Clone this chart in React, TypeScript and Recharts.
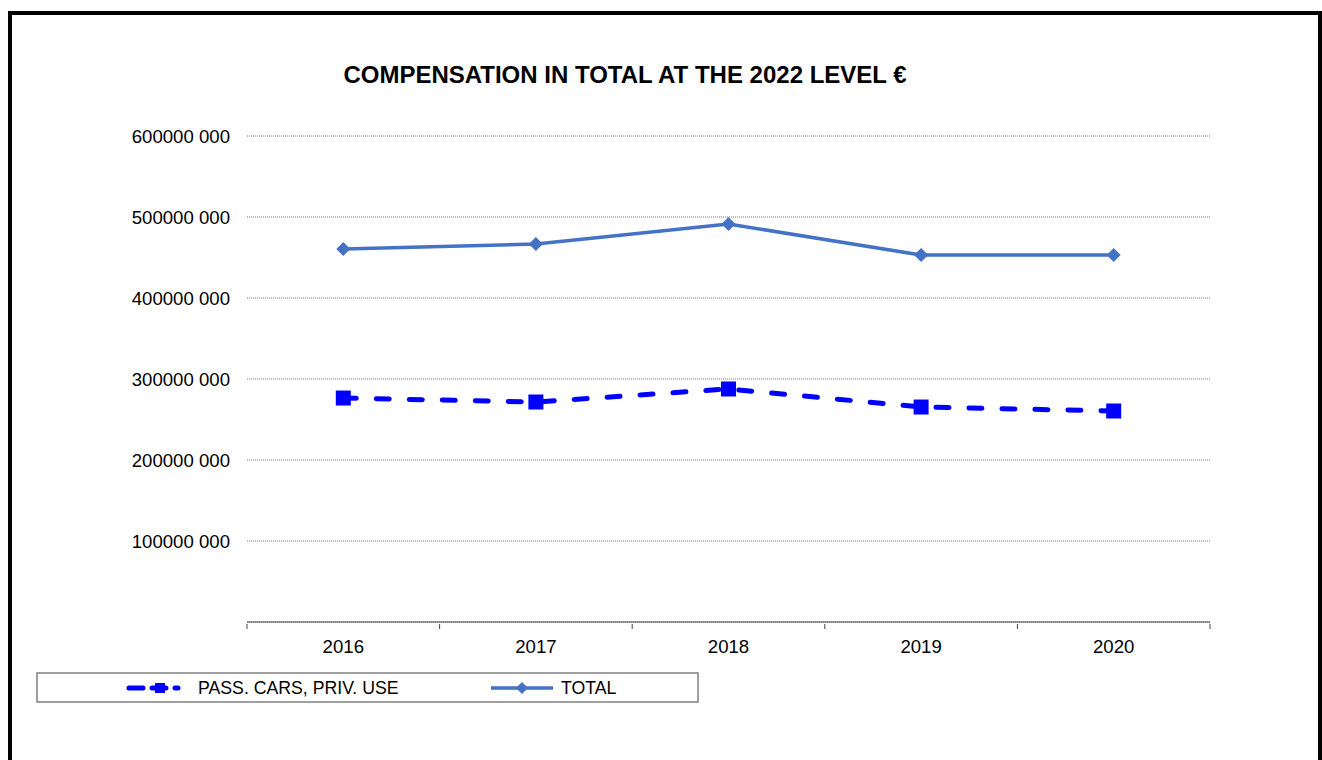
import React from "react";
import { LineChart, Line, XAxis, YAxis, CartesianGrid } from "recharts";

const years = ["2016", "2017", "2018", "2019", "2020"];
const passCars = [276500000, 271600000, 287700000, 265400000, 260500000];
const total = [460500000, 466700000, 491400000, 453000000, 453000000];
const yTicks = [100000000, 200000000, 300000000, 400000000, 500000000, 600000000];

const series = [
  { key: "passCars", name: "PASS. CARS, PRIV. USE", color: "#0000FF" },
  { key: "total", name: "TOTAL", color: "#4472C4" },
];

const data = years.map((year, i) => ({ year, passCars: passCars[i], total: total[i] }));

const FONT = "'Liberation Sans', Arial, sans-serif";

const fmtY = (v: number) => `${Math.floor(v / 1000)} ${String(v % 1000).padStart(3, "0")}`;

function SquareDot(props: any) {
  const { cx, cy } = props;
  if (cx == null || cy == null) return null;
  return <rect x={cx - 7.5} y={cy - 7.5} width={15} height={15} fill="#0000FF" />;
}

function DiamondDot(props: any) {
  const { cx, cy } = props;
  if (cx == null || cy == null) return null;
  const r = 7;
  return <polygon points={`${cx},${cy - r} ${cx + r},${cy} ${cx},${cy + r} ${cx - r},${cy}`} fill="#4472C4" />;
}

function YearTick(props: any) {
  const { x, y, payload, index, visibleTicksCount } = props;
  const half = payload.offset || 0;
  const axisY = y - 6;
  return (
    <g>
      <line x1={x - half} x2={x - half} y1={axisY} y2={axisY + 5} stroke="#444" />
      {index === visibleTicksCount - 1 && (
        <line x1={x + half} x2={x + half} y1={axisY} y2={axisY + 5} stroke="#444" />
      )}
      <text x={x} y={axisY + 22} textAnchor="middle" dominantBaseline="central" fontSize={18.6} fontFamily={FONT} fill="#000">
        {payload.value}
      </text>
    </g>
  );
}

function LegendBox() {
  return (
    <svg width={663} height={31} style={{ position: "absolute", left: 36, top: 672 }}>
      <rect x={1} y={1} width={661} height={29} fill="#fff" stroke="#808080" strokeWidth={1.5} />
      <g>
        <line x1={93} x2={142} y1={16} y2={16} stroke={series[0].color} strokeWidth={5} strokeDasharray="14 9" strokeLinecap="round" />
        <rect x={119} y={11} width={10} height={10} fill={series[0].color} />
        <text x={162} y={16} dominantBaseline="central" fontSize={17.7} fontFamily={FONT}>{series[0].name}</text>
      </g>
      <g>
        <line x1={455} x2={517} y1={16} y2={16} stroke={series[1].color} strokeWidth={3.5} />
        <polygon points="486,10 492,16 486,22 480,16" fill={series[1].color} />
        <text x={525} y={16} dominantBaseline="central" fontSize={17.7} fontFamily={FONT}>{series[1].name}</text>
      </g>
    </svg>
  );
}

export default function App() {
  return (
    <div style={{ position: "absolute", left: 0, top: 0, width: 1322, height: 760, background: "#fff", overflow: "hidden" }}>
      <div style={{ position: "absolute", left: 8, top: 11, width: 1314, height: 800, border: "4px solid #000", boxSizing: "border-box" }} />
      <div style={{ position: "absolute", left: 0, width: 1250, top: 60, textAlign: "center", fontFamily: FONT, fontWeight: "bold", fontSize: 24, lineHeight: "30px" }}>
        COMPENSATION IN TOTAL AT THE 2022 LEVEL €
      </div>
      <div style={{ position: "absolute", left: 0, top: 0 }}>
        <LineChart width={1322} height={760} data={data} margin={{ top: 136, right: 112, left: 20, bottom: 108 }}>
          <CartesianGrid vertical={false} stroke="#777" strokeDasharray="1 1" />
          <XAxis
            dataKey="year"
            scale="band"
            height={30}
            axisLine={{ stroke: "#444" }}
            tickLine={false}
            tick={<YearTick />}
            interval={0}
          />
          <YAxis
            width={227}
            domain={[0, 600000000]}
            ticks={yTicks}
            tickFormatter={fmtY}
            axisLine={false}
            tickLine={false}
            tickSize={0}
            tickMargin={17}
            tick={{ fontSize: 18.6, fontFamily: FONT, fill: "#000" }}
          />
          <Line
            dataKey="total"
            name={series[1].name}
            stroke={series[1].color}
            strokeWidth={3.5}
            dot={<DiamondDot />}
            activeDot={false}
            isAnimationActive={false}
          />
          <Line
            dataKey="passCars"
            name={series[0].name}
            stroke={series[0].color}
            strokeWidth={5}
            strokeDasharray="13 20"
            strokeLinecap="round"
            dot={<SquareDot />}
            activeDot={false}
            isAnimationActive={false}
          />
        </LineChart>
      </div>
      <LegendBox />
    </div>
  );
}
